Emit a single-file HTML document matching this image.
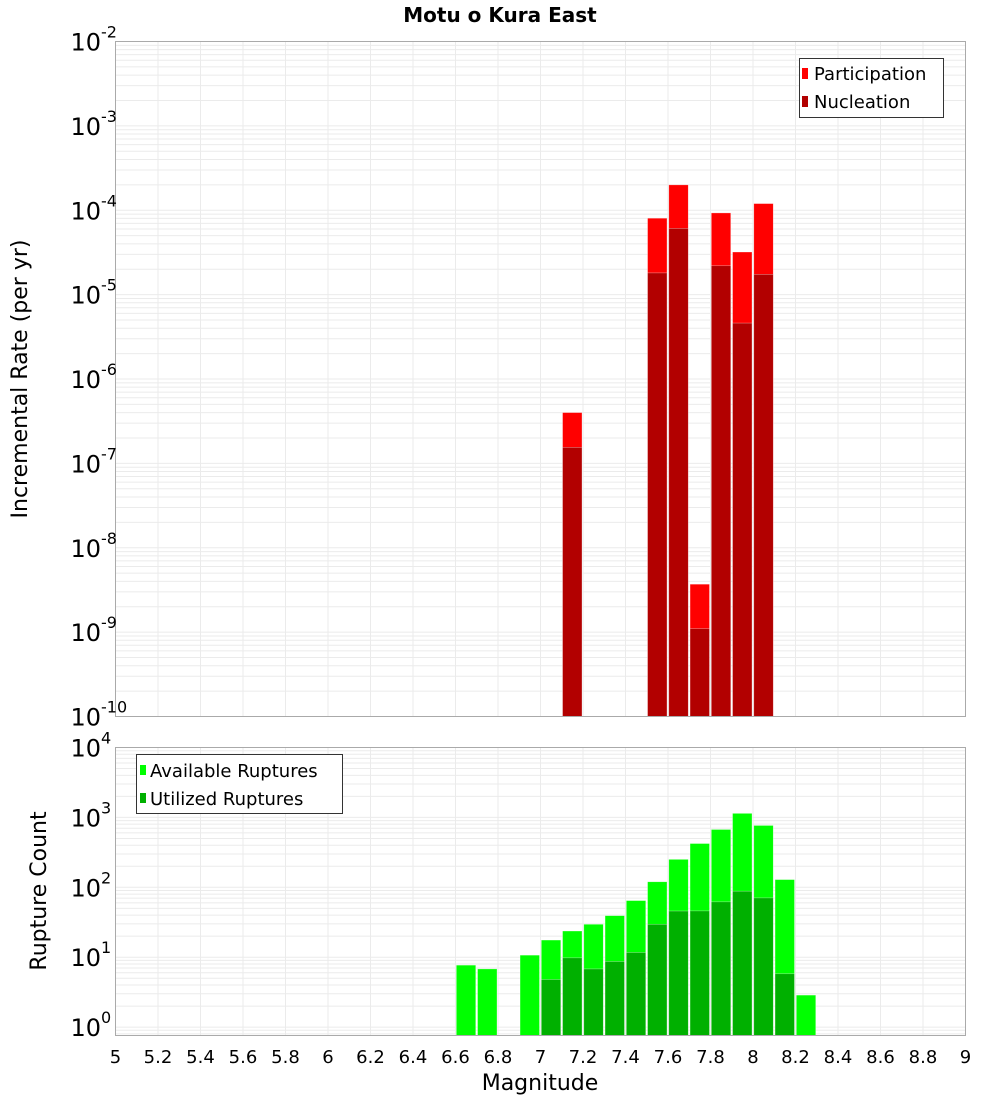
<!DOCTYPE html>
<html><head><meta charset="utf-8"><style>
body{margin:0;background:#fff}
svg{display:block;font-family:"DejaVu Sans","Liberation Sans",sans-serif}
</style></head><body>
<svg id="chart" width="1000" height="1100" xmlns="http://www.w3.org/2000/svg"></svg>
<script>
const binStarts = [7.1,7.5,7.6,7.7,7.8,7.9,8.0];
const participation = [4.0e-7,8.05e-5,2.0e-4,3.7e-9,9.3e-5,3.2e-5,1.2e-4];
const nucleation = [1.55e-7,1.81e-5,6.1e-5,1.1e-9,2.2e-5,4.6e-6,1.74e-5];
const countBins = [6.6,6.7,6.9,7.0,7.1,7.2,7.3,7.4,7.5,7.6,7.7,7.8,7.9,8.0,8.1,8.2];
const available = [7.7,6.8,10.7,17.6,23.7,29.6,39.3,64.6,120,251,423,672,1142,767,129,2.87];
const utilized = [0,0,0,4.8,9.8,6.8,8.7,11.7,29.6,45.8,46,62,88,70.6,5.8,0];
const xTicks = [5,5.2,5.4,5.6,5.8,6,6.2,6.4,6.6,6.8,7,7.2,7.4,7.6,7.8,8,8.2,8.4,8.6,8.8,9];
const topDecades = [-2,-3,-4,-5,-6,-7,-8,-9,-10];
const botDecades = [4,3,2,1,0];

const svg = document.getElementById('chart');
const NS = 'http://www.w3.org/2000/svg';
function mk(tag, attrs, parent){const e=document.createElementNS(NS,tag);for(const k in attrs)e.setAttribute(k,attrs[k]);(parent||svg).appendChild(e);return e;}
const L=115.5,R=965.5;
const x = m => L + (m-5)/4*(R-L);
const T1=41.5,B1=716.5, yTop = v => T1 + (-2 - Math.log10(v))/8*(B1-T1);
const T2=747.5,B2=1035.5, yBot = v => T2 + (4 - Math.log10(v))/4.12*(B2-T2);

function grid(T,B,minD,maxD,yf,name){
  const g=mk('g',{});
  
  
  for(let d=minD; d<maxD; d++) for(let k=1;k<10;k++){
    const y=yf(k*Math.pow(10,d)); if(y<T||y>B) continue;
    mk('line',{x1:L,x2:R,y1:y,y2:y,stroke:'#ebebeb','stroke-width':1},g);
  }
  xTicks.forEach(t=>mk('line',{x1:x(t),x2:x(t),y1:T,y2:B,stroke:'#ebebeb','stroke-width':1},g));
}
grid(T1,B1,-10,-2,yTop,'top-grid');
grid(T2,B2,-1,4,yBot,'bottom-grid');

function bars(starts, vals, yf, B, color, name){
  starts.forEach((s,i)=>{
    if(vals[i]<=0) return;
    const y=yf(vals[i]);
    const r=mk('rect',{x:x(s)+0.8,y:y,width:x(s+0.1)-x(s)-1.8,height:B-y,fill:color,stroke:'rgba(255,255,255,0.5)','stroke-width':0.6});
    
    
  });
}
bars(binStarts,participation,yTop,B1,'#ff0000','participation-bar');
bars(binStarts,nucleation,yTop,B1,'#b20000','nucleation-bar');
bars(countBins,available,yBot,B2,'#00ff00','available-bar');
bars(countBins,utilized,yBot,B2,'#00b000','utilized-bar');

mk('rect',{x:L,y:T1,width:R-L,height:B1-T1,fill:'none',stroke:'#aaa','stroke-width':1});
mk('rect',{x:L,y:T2,width:R-L,height:B2-T2,fill:'none',stroke:'#aaa','stroke-width':1});

function logLabel(d,y,name){
  const t=mk('text',{x:101,y:y+9,'text-anchor':'end','font-size':24,fill:'#000'});
  t.textContent='10';
  
  
  const s=mk('text',{x:101,y:y-4,'font-size':16,fill:'#000'});
  s.textContent=String(d);
}
topDecades.forEach(d=>logLabel(d,yTop(Math.pow(10,d)),'y-tick-top'));
botDecades.forEach(d=>logLabel(d,yBot(Math.pow(10,d)),'y-tick-bottom'));

xTicks.forEach(t=>{
  const e=mk('text',{x:x(t),y:1063,'text-anchor':'middle','font-size':18,fill:'#000'});
  e.textContent=String(t);
  
  
});
</script>
<svg style="position:absolute;left:0;top:0" width="1000" height="1100" font-family="DejaVu Sans, Liberation Sans, sans-serif">
<text x="500" y="22" text-anchor="middle" font-size="20" font-weight="bold">Motu o Kura East</text>
<text transform="translate(27,379) rotate(-90)" text-anchor="middle" font-size="22">Incremental Rate (per yr)</text>
<text transform="translate(46,891) rotate(-90)" text-anchor="middle" font-size="22">Rupture Count</text>
<text x="540" y="1090" text-anchor="middle" font-size="22">Magnitude</text>
<g>
<rect x="799.5" y="58.5" width="144" height="59" fill="#fff" stroke="#333"/>
<rect x="802" y="68" width="6" height="11" fill="#ff0000"/>
<text x="814" y="80" font-size="18">Participation</text>
<rect x="802" y="96" width="6" height="11" fill="#b20000"/>
<text x="814" y="108" font-size="18">Nucleation</text>
</g>
<g>
<rect x="136.5" y="754.5" width="206" height="59" fill="#fff" stroke="#333"/>
<rect x="140" y="765" width="6" height="10" fill="#00ff00"/>
<text x="150" y="777" font-size="18">Available Ruptures</text>
<rect x="140" y="793" width="6" height="10" fill="#00b000"/>
<text x="150" y="805" font-size="18">Utilized Ruptures</text>
</g>
</svg>
</body></html>
